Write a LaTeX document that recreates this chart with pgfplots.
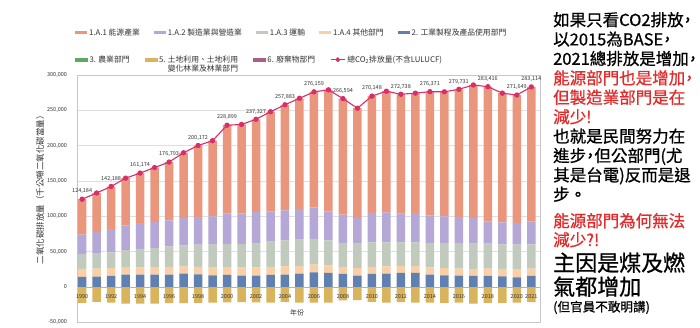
\documentclass[border=0pt]{standalone}
\usepackage{pgfplots}
\usepackage{pgfplotstable}
\pgfplotsset{compat=1.18}
\usepackage{fontspec}
\setmainfont{Noto Sans CJK TC}
\newfontfamily\heavy[FakeBold=0.8]{Noto Sans CJK TC}
\definecolor{cA}{HTML}{EA967D}
\definecolor{cB}{HTML}{B5A7D6}
\definecolor{cC}{HTML}{C0CBBE}
\definecolor{cD}{HTML}{FACFA5}
\definecolor{cE}{HTML}{6080B2}
\definecolor{cF}{HTML}{5FA85F}
\definecolor{cG}{HTML}{DAB45C}
\definecolor{cH}{HTML}{A86088}
\definecolor{cL}{HTML}{D6306A}
\definecolor{cred}{HTML}{E32B2B}
\definecolor{ctxt}{HTML}{333333}
\newcommand{\cm}{\makebox[0.5em][c]{，}}

\pgfplotstableread{
year ind other trans manuf energy lulucf total
1990 14200 11300 21500 27000 50184 -22600 124184
1991 14500 11500 22000 30000 55000 -21000 133000
1992 15600 11300 22100 33000 60188 -22000 142188
1993 17500 10500 24000 35000 67000 -23500 154000
1994 17500 10300 26000 36700 70674 -23600 161174
1995 17500 10500 27500 36500 77000 -23500 169000
1996 17500 10800 29200 36800 82493 -23000 176793
1997 18900 10300 29800 38500 92500 -23000 190000
1998 17900 10400 31700 39000 101172 -22500 200172
1999 16500 11000 32500 40000 107000 -22000 207000
2000 17000 11000 33000 43000 124899 -21700 228899
2001 16000 11500 33500 43000 126000 -21500 230000
2002 16000 11800 33500 44700 131327 -21700 237327
2003 17000 11500 35500 43000 141000 -22000 248000
2004 17500 11700 36800 42500 149383 -21000 257883
2005 19000 11000 37000 43000 157000 -22000 267000
2006 20800 10800 36400 44700 163459 -22000 276159
2007 19800 10700 35500 41000 172000 -22000 279000
2008 18400 9900 34000 40100 164194 -19000 266594
2009 16000 10900 34600 36100 155400 -18500 253000
2010 18400 9900 34900 41500 165448 -21000 270148
2011 18900 10300 34000 42500 171300 -22000 277000
2012 19800 9700 33500 40800 168938 -21500 272738
2013 19800 9700 33500 41500 169800 -22000 274300
2014 17500 10300 34500 38700 175371 -22000 276371
2015 16500 10000 35500 38000 176200 -22500 276200
2016 16000 10000 36000 37000 180731 -22000 279731
2017 15600 9900 35800 36300 188300 -23500 285900
2018 15600 10400 35300 31600 190516 -22500 283416
2019 15100 10400 34900 31100 182800 -22500 274300
2020 13700 10800 35400 30700 181049 -22000 271649
2021 15600 10400 34400 32500 190214 -21500 283114
}\data

\pgfplotsset{
  base/.style={scale only axis, width=462.5pt, height=247.3pt,
    xmin=1989.68, xmax=2021.6, ymin=-50000, ymax=300000,
    at={(77.5pt,5.7pt)}, anchor=south west},
  legfont/.style={font=\fontsize{7.8}{9}\selectfont},
}

\begin{document}
\begin{tikzpicture}[x=1pt,y=1pt]
\useasboundingbox (0,0) rectangle (700,328);
\fill[white] (0,0) rectangle (700,328);

% negative LULUCF bars
\begin{axis}[base, hide axis, ybar, bar width=8.5pt]
\addplot[fill=cG, draw=none] table[x=year,y=lulucf] {\data};
\end{axis}

% main axis with stacked bars
\begin{axis}[base, ybar stacked, bar width=8.5pt,
  axis line style={draw=gray!45},
  ymajorgrids, grid style={gray!25},
  major tick length=0pt,
  ytick={-50000,0,50000,100000,150000,200000,250000,300000},
  scaled y ticks=false,
  xtick={1990,1992,...,2020,2021},
  /pgf/number format/assume math mode=true,
  y tick label style={/pgf/number format/.cd, fixed, 1000 sep={,}, /tikz/.cd, font=\fontsize{5.5}{6}\selectfont, text=ctxt, xshift=-7pt},
  x tick label style={/pgf/number format/.cd, 1000 sep={}, /tikz/.cd, font=\fontsize{5.5}{6}\selectfont, text=ctxt, anchor=center, yshift=25.3pt},
  extra y ticks={0}, extra y tick labels={},
  extra y tick style={grid=major, major grid style={gray!60}},
  ylabel={二氧化碳排放量（千公噸二氧化碳當量）},
  ylabel style={at={(rel axis cs:-0.081,0.545)}, anchor=center, font=\fontsize{8.5}{9}\selectfont, text=ctxt},
  xlabel={年份},
  xlabel style={at={(rel axis cs:0.4746,0.0376)}, anchor=center, font=\fontsize{7}{8}\selectfont, text=ctxt},
  legend columns=5, reverse legend,
  legend cell align=left,
  legend image code/.code={\fill[#1,/tikz/.cd] (0pt,-1.6pt) rectangle (12pt,1.6pt);},
  legend style={legfont, draw=none, fill=none, inner sep=0pt, text=ctxt,
    at={(-0.0054,1.196)}, anchor=north west,
    /tikz/every even column/.append style={column sep=12pt}},
]
\addplot[fill=cE, draw=none] table[x=year,y=ind] {\data};
\addlegendentry{2. 工業製程及產品使用部門}
\addplot[fill=cD, draw=none] table[x=year,y=other] {\data};
\addlegendentry{1.A.4 其他部門}
\addplot[fill=cC, draw=none] table[x=year,y=trans] {\data};
\addlegendentry{1.A.3 運輸}
\addplot[fill=cB, draw=none] table[x=year,y=manuf] {\data};
\addlegendentry{1.A.2 製造業與營造業}
\addplot[fill=cA, draw=none] table[x=year,y=energy] {\data};
\addlegendentry{1.A.1 能源產業}
\end{axis}

% total line
\begin{axis}[base, hide axis, clip=false,
  legend columns=4, legend cell align=left,
  legend image code/.code={\draw[#1,/tikz/.cd,mark=none] (0pt,0pt) -- (14pt,0pt); \fill[cL] (7pt,0pt) circle (1.8pt);},
  legend style={legfont, draw=none, fill=none, inner sep=0pt, text=ctxt,
    at={(-0.0054,1.087)}, anchor=north west,
    /tikz/every even column/.append style={column sep=13pt}},
]
\addlegendimage{legend image code/.code={\fill[cF] (0pt,-1.6pt) rectangle (12pt,1.6pt);}}
\addlegendentry{3. 農業部門}
\addlegendimage{legend image code/.code={\fill[cG] (0pt,-1.6pt) rectangle (12pt,1.6pt);}}
\addlegendentry{\begin{tabular}[t]{@{}r@{}}5. 土地利用、土地利用\\變化林業及林業部門\end{tabular}}
\addlegendimage{legend image code/.code={\fill[cH] (0pt,-1.6pt) rectangle (12pt,1.6pt);}}
\addlegendentry{6. 廢棄物部門}
\addplot[cL, line width=1.1pt, mark=*, mark size=2.1pt, mark options={fill=cL, draw=cL}] table[x=year,y=total] {\data};
\addlegendentry{總CO\textsubscript{2}排放量(不含LULUCF)}
\addplot[draw=none, mark=none, forget plot, point meta=y,
  nodes near coords={\pgfmathprintnumber[fixed,precision=0,1000 sep={,},assume math mode=true]{\pgfplotspointmeta}},
  nodes near coords style={font=\fontsize{5.5}{6}\selectfont, text=ctxt, anchor=south, yshift=4.5pt, inner sep=0.5pt}]
coordinates {(1990,124184) (1992,142188) (1994,161174) (1996,176793) (1998,200172) (2000,228899) (2002,237327) (2004,257883) (2006,276159) (2008,266594) (2010,270148) (2012,272738) (2014,276371) (2016,279731) (2018,283416) (2020,271649) (2021,283114)};
\end{axis}

% right-hand commentary
\node[anchor=base west, inner sep=0pt, text=black] at (553,302) {\parbox[t]{160pt}{\heavy\fontsize{16.5}{19.4}\selectfont
如果只看CO2排放\cm\\
以2015為BASE\cm\\
2021總排放是增加\cm\\
{\color{cred}能源部門也是增加\cm}\\
{\color{cred}但製造業部門是在}\\
{\color{cred}減少!}\\
也就是民間努力在\\
進步\cm 但公部門(尤\\
其是台電)反而是退\\
步。}};
\node[anchor=base west, inner sep=0pt, text=cred] at (553,101) {\parbox[t]{160pt}{\heavy\fontsize{16.5}{19}\selectfont
能源部門為何無法\\
減少?!}};
\node[anchor=base west, inner sep=0pt, text=black] at (553,57) {\parbox[t]{160pt}{\heavy\fontsize{22}{24}\selectfont
主因是煤及燃\\
氣都增加}};
\node[anchor=base west, inner sep=0pt, text=black] at (553,16.5) {\heavy\fontsize{12.6}{14}\selectfont (但官員不敢明講)};
\end{tikzpicture}
\end{document}
